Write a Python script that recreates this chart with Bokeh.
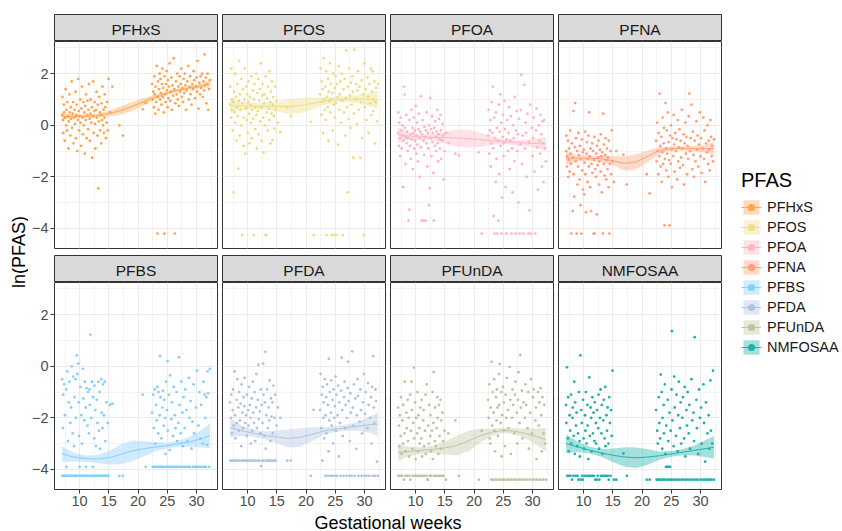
import math
import numpy as np
from bokeh.plotting import figure
from bokeh.layouts import row, column
from bokeh.models import Range1d, FixedTicker, Legend, LegendItem
from bokeh.embed import file_html
from bokeh.resources import INLINE
from bokeh.core.properties import value

# ---------------- data ----------------
pfas_names = ["PFHxS", "PFOS", "PFOA", "PFNA", "PFBS", "PFDA", "PFUnDA", "NMFOSAA"]
pfas_colors = ["#FFA54F", "#EEDD82", "#FFB6C1", "#FFA07A", "#87CEFA", "#B0C4DE", "#C2C2A3", "#20B2AA"]

x_ticks = [10, 15, 20, 25, 30]
y_ticks = [-4, -2, 0, 2]

# gestational week of each sample (same samples measured for every PFAS)
weeks_early = [7.0, 7.05, 7.15, 7.2, 7.3, 7.35, 7.45, 7.5, 7.6, 7.7,
               7.75, 7.85, 7.9, 8.0, 8.1, 8.15, 8.25, 8.3, 8.4, 8.5,
               8.55, 8.65, 8.7, 8.8, 8.9, 8.95, 9.05, 9.1, 9.2, 9.3,
               9.35, 9.45, 9.5, 9.6, 9.7, 9.75, 9.85, 9.9, 10.0, 10.1,
               10.15, 10.25, 10.3, 10.4, 10.5, 10.55, 10.65, 10.7, 10.8, 10.9,
               10.95, 11.05, 11.1, 11.2, 11.3, 11.35, 11.45, 11.5, 11.6, 11.7,
               11.75, 11.85, 11.9, 12.0, 12.1, 12.15, 12.25, 12.3, 12.4, 12.5,
               12.55, 12.65, 12.7, 12.8, 12.9, 12.95, 13.05, 13.1, 13.2, 13.3,
               13.35, 13.45, 13.5, 13.6, 13.7, 13.75, 13.85, 13.9, 14.0, 14.1,
               14.15, 14.25, 14.3, 14.4, 14.5, 14.6, 14.7, 14.8, 14.95, 15.2]
weeks_mid = [15.6, 16.8, 17.4, 20.8, 21.3]
weeks_late = [22.4, 22.5, 22.6, 22.7, 22.8, 22.85, 22.95, 23.0, 23.1, 23.2,
              23.3, 23.35, 23.45, 23.5, 23.6, 23.7, 23.75, 23.85, 23.9, 24.0,
              24.1, 24.15, 24.25, 24.3, 24.4, 24.5, 24.55, 24.65, 24.7, 24.8,
              24.9, 24.95, 25.05, 25.1, 25.2, 25.3, 25.4, 25.5, 25.6, 25.7,
              25.8, 25.9, 26.0, 26.1, 26.2, 26.3, 26.4, 26.5, 26.6, 26.7,
              26.8, 26.9, 27.0, 27.1, 27.2, 27.3, 27.4, 27.5, 27.6, 27.7,
              27.8, 27.9, 28.0, 28.1, 28.2, 28.3, 28.45, 28.6, 28.7, 28.8,
              28.9, 29.0, 29.15, 29.3, 29.4, 29.5, 29.6, 29.75, 29.9, 30.0,
              30.1, 30.2, 30.35, 30.5, 30.6, 30.7, 30.8, 30.95, 31.1, 31.2,
              31.3, 31.4, 31.5, 31.6, 31.7, 31.8, 31.9, 32.0, 32.15, 32.3]

# ln(PFAS) values
pfhxs_early = [0.4, 1.1, 0.2, -0.3, 0.8, 0.5, -0.6, 0.3, 1.4, 0.0,
               0.6, -0.2, 0.9, 0.35, -0.9, 0.15, 1.2, 0.5, -0.4, 0.7,
               0.25, 1.7, -0.1, 0.45, 0.9, -0.7, 0.3, 0.6, 0.05, 1.3,
               -0.5, 0.4, 0.8, -1.0, 0.2, 1.8, 0.55, -0.2, 0.35, 1.0,
               0.1, -0.8, 0.65, 1.5, 0.3, -0.35, 0.9, 0.0, 0.5, -1.1,
               0.75, 0.2, 1.2, -0.5, 0.4, 0.95, -0.15, 0.6, 1.6, 0.25,
               -0.6, 0.45, 1.0, 0.1, 0.7, -1.26, 0.35, 1.7, -0.3, 0.55,
               0.9, 0.05, -0.9, 0.6, 1.3, 0.3, -0.4, 0.8, -2.45, 0.15,
               1.1, 0.5, -0.2, 0.4, -0.7, 0.85, 0.2, 1.5, 0.0, 0.6,
               -0.3, 0.3, 1.2, 0.7, -0.5, 0.1, 0.9, -0.2, 1.8, 0.5]
pfhxs_mid = [1.5, 0.0, -0.4, 0.62, 0.86]
pfhxs_late = [1.6, 1.0, 1.3, 0.7, 1.9, 1.2, 0.45, 1.5, 0.9, 2.3,
              -4.2, 1.1, 1.7, 0.6, 1.4, 2.0, 1.0, 1.8, 1.25, 0.8,
              1.6, 2.2, 1.1, 1.45, 0.5, -4.2, 1.9, 1.2, 0.9, 1.6,
              2.1, 1.35, 0.7, 1.75, 1.05, 1.5, 2.4, 0.95, 1.3, 1.85,
              0.6, 1.55, 1.15, 2.6, 1.4, -4.2, 0.85, 1.7, 1.2, 2.0,
              1.0, 1.5, 0.75, 1.9, 1.3, 1.6, 2.2, 1.1, 1.45, 0.9,
              1.8, 1.25, 2.0, 1.55, 0.6, 1.35, 1.7, 2.3, 1.0, 1.5,
              1.9, 1.2, 0.8, 1.6, 1.4, 2.1, 1.75, 1.05, 1.5, 1.85,
              1.3, 2.5, 0.65, 1.65, 1.2, 1.9, 1.45, 2.0, 1.1, 1.7,
              1.35, 2.75, 1.55, 1.85, 0.85, 1.6, 2.0, 0.6, 1.4, 1.75]

pfos_early = [0.8, 1.5, 0.3, 2.2, 0.6, 1.0, -0.2, 0.9, -2.6, 1.3,
              0.5, 2.0, 0.1, 1.1, -0.6, 0.7, 1.6, 0.35, -1.68, 0.95,
              2.5, -0.4, 1.2, 0.6, 0.0, 1.8, -4.26, 0.85, 1.4, -0.8,
              0.3, 1.0, 2.2, -1.1, 0.65, 1.5, 0.2, 1.2, -0.3, 0.9,
              1.7, 0.45, -0.7, 1.1, 0.8, 0.1, 1.9, -0.5, 0.6, 1.35,
              0.25, -4.26, 1.0, 1.6, -0.15, 0.7, 2.0, 0.4, -0.9, 1.25,
              0.55, 1.8, -0.35, 0.95, 1.4, 0.15, 2.4, 0.7, -0.6, 1.15,
              1.6, 0.3, -1.05, 0.85, 1.2, 0.0, -4.26, 1.9, -4.26, 0.5,
              1.05, -0.2, 1.5, 0.65, 2.1, 0.2, 0.9, -0.7, 1.3, 0.45,
              1.7, -0.58, 0.8, 1.1, 0.35, -0.13, 1.5, 0.6, 0.95, 0.1]
pfos_mid = [-0.27, 0.7, 0.35, 0.13, -4.26]
pfos_late = [1.2, 2.2, 0.4, 1.7, 0.9, 1.4, -0.3, 2.6, 1.0, 0.6,
             1.5, 0.2, 2.1, -4.26, 1.1, 0.7, 1.8, -0.6, 1.3, 0.95,
             2.4, 0.5, 1.6, 1.0, -4.26, 1.25, -0.2, 2.0, 0.8, -4.26,
             1.45, 0.3, 1.9, 0.85, -4.26, 1.6, 1.1, -0.75, 2.3, 0.6,
             1.2, 1.7, 0.1, 2.0, 0.95, -4.26, 1.4, 0.5, 1.8, -0.4,
             1.05, 2.9, 0.7, -2.6, 1.5, 0.25, 2.2, 1.15, -0.1, 1.65,
             0.8, 1.9, 1.3, -1.26, 0.45, 2.93, 1.0, 1.6, 0.05, 1.35,
             2.1, 0.6, 1.5, -1.26, 0.9, 1.75, -0.5, 1.2, -4.26, 2.4,
             0.7, 1.4, 0.2, 1.85, 1.1, -0.3, 1.6, 0.85, 2.2, 0.4,
             1.3, 2.1, 0.55, 1.0, 1.7, -0.7, 0.9, 1.45, 0.15, 1.6]

pfoa_early = [-0.3, 0.5, -0.8, 0.1, -0.5, -1.2, 0.3, -0.2, -0.9, -0.4,
              0.0, -2.4, -0.6, 1.5, 1.19, -0.1, -1.5, -0.45, 0.4, -0.7,
              -0.25, -1.0, -0.5, -3.7, -3.27, 0.2, -0.8, -0.35, -1.3, 0.6,
              -0.55, -0.1, -1.7, -0.3, 0.3, -0.9, -0.2, -0.6, 0.75, -1.1,
              -0.4, 0.1, -0.75, -1.4, -0.15, 0.45, -0.5, -2.0, -0.25, -0.85,
              1.12, -3.7, -0.35, 0.2, -3.7, -0.6, -1.15, -0.05, -0.45, -3.7,
              -0.2, -0.7, 0.5, -1.6, -0.3, -0.9, -3.1, 0.0, -2.45, 1.06,
              -0.5, -0.15, -1.2, 0.35, -0.65, -0.3, -1.85, -3.7, -0.1, -0.8,
              0.15, -0.45, -1.0, -0.25, 0.6, -0.7, -1.4, -0.35, 0.25, -0.55,
              -0.9, 0.4, -0.2, -1.3, -0.6, 0.05, -0.4, -2.1, -1.0, -0.3]
pfoa_mid = [-0.7, -1.1, -1.17, -1.05, -4.2]
pfoa_late = [-0.4, 0.6, -1.1, -0.2, 0.2, -1.6, -0.7, 0.9, -0.3, 1.5,
             -0.9, -3.52, 0.3, -4.2, -0.5, -2.2, 0.5, -1.3, -0.1, -4.2,
             -0.6, -3.7, 0.8, -1.9, -0.25, 1.2, -0.8, 0.1, -4.2, -2.8,
             -0.45, 0.4, -1.2, -0.7, 0.95, -0.15, -2.4, -4.2, -0.55, 0.2,
             -1.0, -0.3, 0.7, -1.7, -0.6, 0.35, -4.2, -0.9, -2.6, 0.0,
             -0.5, -1.4, 1.1, -4.2, -0.2, 0.55, -1.0, -0.35, -3.0, 0.25,
             -4.2, -0.75, 0.6, 1.96, -1.5, -0.4, -4.2, 1.57, -0.9, 0.1,
             -0.3, -2.0, 0.45, -4.2, -0.65, -3.3, 0.8, -4.2, -0.1, -1.2,
             -0.5, 0.3, -1.8, -4.2, -0.2, 0.65, -0.85, -2.5, 0.0, -0.6,
             -1.1, 0.4, -0.35, -1.6, 0.15, -0.7, -2.2, 0.2, -0.9, -1.4]

pfna_early = [-1.0, -0.4, -1.6, -1.2, -0.6, -2.0, -1.35, -0.9, -1.8, -0.2,
              -1.1, -1.5, -4.2, -0.7, -3.33, -1.25, 0.55, -1.9, -2.77, -0.85,
              0.86, -1.4, -0.5, -4.2, -1.0, -2.3, -1.6, -0.3, -1.15, -2.1,
              -0.8, -3.1, -1.3, -4.2, -0.55, -1.75, -1.05, -2.5, -0.95, -2.68,
              -1.45, -0.25, -1.9, -3.37, -1.1, -0.65, -2.2, -1.3, -0.4, -1.6,
              0.5, -1.2, -2.4, -0.9, -3.33, -1.5, -0.7, -1.85, -1.0, -4.2,
              -1.35, -0.45, -4.2, -1.7, -2.0, -1.1, -3.46, -0.8, -1.55, -1.25,
              -0.6, -2.3, -1.4, -0.95, -1.8, -0.35, -1.2, -2.6, -1.05, -4.2,
              0.45, -1.5, -0.75, -1.95, -1.15, -0.5, -2.1, -1.35, -0.9, -1.7,
              -1.25, -2.4, -0.6, -4.2, -1.5, -1.0, -1.9, -0.2, -1.4, -2.2]
pfna_mid = [-1.0, -1.14, -2.3, -1.9, -2.64]
pfna_late = [-0.6, -1.4, 0.1, -1.0, -1.9, -0.3, -1.2, 1.23, -0.8, -1.6,
             -0.45, -2.2, -1.05, 0.3, -1.5, -0.7, -0.1, -3.88, -1.3, 0.86,
             -0.9, -1.75, -0.2, -1.1, 0.5, -2.0, -0.65, -1.35, -3.88, -0.4,
             -1.5, 0.0, -0.95, -2.4, -0.5, -1.2, 0.4, -0.75, -1.8, -0.3,
             -1.0, -0.55, -2.1, 0.2, -1.4, -0.85, -0.15, -1.65, -0.6, -1.25,
             0.6, -0.9, -1.55, -0.35, -2.3, -0.7, 0.1, -1.1, -0.45, -1.9,
             -0.8, -1.3, 0.35, 1.23, -1.0, -0.5, 0.8, -1.7, -0.25, -1.15,
             -2.0, -0.6, -1.4, 0.15, -0.95, -0.4, -1.6, -0.75, 0.5, -1.2,
             -0.5, -1.85, -0.9, 0.3, -1.3, -0.2, -2.2, -0.7, -1.05, 0.0,
             -1.5, -0.6, -0.95, -1.75, 0.2, -0.45, -1.2, -0.8, -1.4, -0.55]

pfbs_early = [-0.5, -4.25, -2.4, -1.1, -4.25, -0.7, -4.25, -1.9, -4.25, -0.9,
              -3.9, -4.25, -0.2, -2.9, -4.25, -1.4, -0.6, -4.25, -2.2, -4.25,
              -1.6, 0.0, -4.25, -2.6, -0.4, -4.25, -3.1, -1.2, -4.25, -0.5,
              -2.0, -4.25, 0.42, -0.3, -4.25, 0.1, -1.4, -2.7, -3.9, -4.25,
              -0.8, -4.25, -1.9, -3.0, -4.25, -0.1, -1.25, -4.25, -2.1, -0.6,
              -4.25, -1.6, -3.9, -0.85, -4.25, -2.3, -1.0, -4.25, -2.6, -0.9,
              -1.5, 1.23, -4.25, -2.0, -0.6, -4.25, -3.9, -1.2, -4.25, -2.8,
              -0.75, -4.25, -1.7, -3.1, -4.25, -1.3, -2.2, -4.25, -0.6, -2.5,
              -4.25, -1.0, -3.2, -4.25, -0.5, -1.8, -4.25, -2.4, -0.7, -4.25,
              -1.9, -4.25, -0.6, -2.9, -4.25, -1.4, -4.25, -2.2, -4.25, -1.5]
pfbs_mid = [-1.45, -4.25, -4.25, -1.1, -3.9]
pfbs_late = [-1.8, -3.9, -1.1, -2.4, -3.9, -0.9, -3.0, -3.9, -1.5, -2.1,
             -0.8, -3.9, -2.6, -1.0, -3.9, -1.9, 0.4, -1.2, -3.9, -2.8,
             -3.9, -1.6, -0.95, -3.9, -2.3, -1.3, -3.9, -2.0, -3.4, -0.6,
             -3.9, -1.7, 0.2, -2.5, -3.9, -1.1, -3.25, -0.35, -3.9, -2.05,
             -1.4, -3.9, -2.7, -0.8, -3.9, -1.9, -2.4, -3.9, -1.0, -2.9,
             -3.9, -2.2, 0.35, -1.5, -3.9, -2.6, -0.6, -3.9, -1.8, -3.1,
             -1.2, -3.9, -2.4, -0.9, -3.9, -1.7, -2.9, -3.9, -0.45, -2.0,
             -3.9, -1.35, -3.2, -2.15, -3.9, -0.7, -2.6, -3.9, -1.6, -3.9,
             -0.17, -3.9, -2.3, -1.0, -3.9, -2.8, -1.5, -3.9, -3.0, -0.6,
             -3.9, -1.1, -2.0, -3.9, -1.2, -3.05, -0.2, -1.05, -3.9, -0.1]

pfda_early = [-1.4, -3.66, -2.0, -1.1, -2.6, -3.66, -1.7, -0.9, -2.3, -3.66,
              -0.2, -1.9, -2.8, -3.66, -1.3, -2.2, -0.5, -3.66, -1.6, -2.5,
              -1.0, -3.66, -2.1, -1.45, -3.1, -0.7, -3.66, -1.8, -2.4, -1.2,
              -3.66, -1.55, -0.45, -2.2, -3.66, -1.9, -2.7, -1.1, -3.66, -1.7,
              -2.3, -0.8, -3.66, -1.5, -2.0, -3.0, -3.66, -1.25, -2.5, -0.6,
              -1.8, -3.66, -2.2, -1.0, -2.9, -3.66, -1.6, -0.3, -2.4, -3.66,
              -1.3, 0.06, -2.05, -3.66, -1.75, -2.6, -0.9, -3.87, -1.5, -3.66,
              -2.2, 0.1, -1.1, -3.66, -2.7, -1.4, 0.56, -3.2, -1.9, -3.66,
              -0.9, -2.4, -3.66, -1.6, -2.1, -0.55, -3.66, -2.9, -1.25, -1.95,
              -3.66, -1.4, -2.6, -0.75, -3.66, -2.0, -1.1, -3.66, -2.3, -1.6]
pfda_mid = [-2.0, -3.66, -3.66, -4.25, -1.69]
pfda_late = [-1.7, -0.3, -2.4, -1.1, -3.66, -0.8, -2.0, -1.4, -2.8, -0.5,
             -4.25, -1.9, -1.2, -2.6, -0.7, -4.25, -1.5, -3.3, 0.29, -2.1,
             -1.0, -4.25, -1.8, -0.55, -2.3, -4.25, -1.3, -3.0, -0.9, -2.0,
             -4.25, -1.55, -0.4, -2.5, -1.1, -4.25, -1.9, -0.75, -3.5, -1.4,
             -2.2, -4.25, -0.95, 0.33, -1.7, -2.7, -4.25, -1.2, -0.6, -2.4,
             -1.5, -4.25, -2.0, -0.85, 0.18, -1.35, -4.25, -2.9, -1.05, -1.8,
             -4.25, 0.58, -1.6, -2.3, -0.7, -4.25, -1.25, -3.2, -1.9, -0.5,
             -1.15, -4.25, -2.15, -0.9, -1.7, -4.25, -2.6, -1.4, -0.3, -4.25,
             -1.85, -1.0, -4.25, -2.4, -0.65, -1.5, -4.25, -2.0, -1.2, -3.0,
             -0.8, -4.25, 0.39, -1.6, -2.2, -4.25, -0.9, -1.35, -3.7, -4.25]

pfunda_early = [-1.6, -4.25, -2.3, -3.1, -1.9, -4.25, -2.7, -1.2, -3.4, -4.25,
                -2.1, -3.0, -1.5, -4.4, -2.6, -0.6, -4.25, -3.3, -1.8, -2.4,
                -4.25, -1.3, -2.9, -2.0, -3.5, -4.25, -1.1, -4.4, -2.5, -0.6,
                -1.7, -3.2, -4.25, -2.2, -0.05, -2.8, -4.25, -1.4, -3.6, -2.0,
                -4.25, -2.6, -1.0, -3.3, -1.9, -4.25, -2.4, -3.0, -1.6, -4.25,
                -2.8, -1.3, -3.5, -4.25, -2.1, -1.7, -3.1, -4.25, -2.5, -1.1,
                -3.4, -4.25, -0.7, -4.4, -4.4, -2.3, -3.0, -1.5, -4.25, -2.7,
                -1.9, -3.3, -4.25, -2.5, -1.0, -3.6, -2.2, -0.22, -4.25, -2.9,
                -1.6, -3.1, -4.25, -2.4, -1.2, -2.0, -4.25, -3.4, -1.5, -2.7,
                -4.25, -1.3, -3.2, -2.1, -4.25, -1.8, -2.9, -4.25, -2.5, -4.4]
pfunda_mid = [-2.6, -2.1, -4.25, -4.4, -2.5]
pfunda_late = [-1.3, -2.0, -0.7, -2.8, -3.0, -1.6, -4.4, 0.17, -2.3, -1.0,
               -4.4, -1.8, -0.5, -2.5, -3.3, -4.4, -1.2, -2.1, -0.9, -1.6,
               -2.7, -4.4, -0.3, -1.5, 0.09, -4.4, -2.2, -1.0, -3.5, -1.9,
               -4.4, -0.8, -2.5, -1.4, -4.4, -3.1, -1.1, -2.0, -0.45, -4.4,
               -1.7, -2.4, -4.4, -0.03, -1.3, -3.4, -4.4, -2.0, -0.9, -1.5,
               -4.4, -2.6, -1.1, -0.6, -4.4, -1.8, -3.0, -1.3, -0.23, -4.4,
               -2.2, 0.44, -1.6, -4.4, -0.95, -2.8, -1.4, -4.4, -2.0, -0.7,
               -1.5, -4.4, -2.4, -1.0, -3.2, -4.4, -1.8, -0.5, -2.6, -4.4,
               -1.2, -0.9, -4.4, -2.1, -1.6, -3.6, -4.4, -1.0, -2.3, -1.4,
               -4.4, -0.85, -1.9, -3.3, -1.2, -4.4, -2.6, -1.5, -3.0, -4.4]

nmfosaa_early = [-1.5, -2.2, -0.04, -4.25, -2.8, -1.2, -3.3, -4.25, -1.9, -2.5,
                 -4.25, -1.1, -3.0, -4.4, -2.0, -1.6, -4.25, -2.7, -0.6, -3.4,
                 -1.4, -4.25, -2.3, -1.8, -3.1, -4.25, -2.6, -4.4, -1.0, -2.9,
                 -3.5, 0.42, -4.4, -1.7, -2.2, -4.25, -4.4, -1.3, -2.8, -3.2,
                 -4.25, -1.9, -2.5, -1.0, -3.0, -4.25, -1.5, -2.3, -3.6, -4.25,
                 -0.43, -2.7, -4.25, -1.6, -2.0, -3.3, -4.25, -1.2, -2.6, -1.8,
                 -4.25, -2.9, -1.4, -4.4, -2.2, -3.0, -4.4, -1.7, -4.25, -2.4,
                 -1.1, -3.2, -4.4, -2.0, -0.9, -4.25, -2.6, -1.5, -3.4, -4.25,
                 -2.1, -1.3, -4.25, -2.8, -0.8, -3.1, -4.25, -1.9, -2.5, -1.6,
                 -4.25, -3.0, -4.4, -1.2, -2.2, -4.25, -1.7, -2.7, -0.17, -4.4]
nmfosaa_mid = [-4.4, -3.38, -4.25, -4.4, -4.4]
nmfosaa_late = [-1.7, -4.4, -2.5, -3.0, -4.4, -1.2, -2.2, -4.4, -2.8, -0.32,
                -4.4, -1.0, -3.2, -2.0, -4.4, -1.5, -2.6, -4.4, -0.7, -3.4,
                -3.9, -2.3, -4.4, -3.9, -1.3, -2.9, -3.9, -4.4, -1.8, -3.9,
                -2.5, -4.4, -0.9, 1.36, -2.1, -4.4, -3.1, -0.4, -1.6, -4.4,
                -2.7, -1.1, -4.4, -3.3, -1.9, -0.6, -4.4, -2.4, -1.4, -3.0,
                -4.4, -2.0, -1.2, -4.4, -2.8, -0.8, -3.5, -4.4, -1.7, -2.3,
                -1.0, -4.4, -2.6, -1.5, -3.2, -4.4, -0.5, -2.1, -4.4, -1.8,
                -2.9, 1.13, -4.4, -1.3, -2.4, -4.4, -3.4, -0.9, -2.0, -4.4,
                -1.6, -3.0, -4.4, -0.7, -2.2, -4.4, -3.7, -1.4, -4.4, -2.6,
                -4.4, -1.9, -3.2, -4.4, -0.55, -2.5, -4.4, -3.0, -0.17, -4.4]

# loess fits (mean and half-width of the 95% band)
fit_weeks = [7, 9, 11, 13, 15, 17, 19, 21, 23, 25, 27, 29, 31, 32.3]
pfhxs_fit = [0.34, 0.34, 0.35, 0.37, 0.45, 0.57, 0.73, 0.92, 1.10, 1.25, 1.37, 1.46, 1.54, 1.60]
pfhxs_se = [0.13, 0.08, 0.07, 0.08, 0.11, 0.16, 0.17, 0.14, 0.09, 0.07, 0.07, 0.07, 0.09, 0.13]
pfos_fit = [0.76, 0.75, 0.74, 0.74, 0.73, 0.73, 0.77, 0.84, 0.93, 0.99, 1.02, 1.02, 1.00, 0.98]
pfos_se = [0.28, 0.16, 0.12, 0.13, 0.20, 0.28, 0.30, 0.25, 0.15, 0.11, 0.12, 0.16, 0.26, 0.36]
pfoa_fit = [-0.38, -0.42, -0.45, -0.47, -0.48, -0.49, -0.52, -0.56, -0.60, -0.63, -0.66, -0.69, -0.71, -0.72]
pfoa_se = [0.30, 0.13, 0.10, 0.12, 0.22, 0.33, 0.35, 0.28, 0.16, 0.10, 0.10, 0.13, 0.20, 0.27]
pfna_fit = [-1.28, -1.28, -1.28, -1.30, -1.37, -1.48, -1.42, -1.20, -0.97, -0.90, -0.90, -0.90, -0.90, -0.90]
pfna_se = [0.25, 0.12, 0.10, 0.11, 0.18, 0.28, 0.30, 0.22, 0.12, 0.08, 0.08, 0.10, 0.16, 0.24]
pfbs_fit = [-3.40, -3.52, -3.58, -3.60, -3.55, -3.42, -3.28, -3.20, -3.13, -3.08, -3.00, -2.92, -2.80, -2.70]
pfbs_se = [0.30, 0.17, 0.12, 0.15, 0.26, 0.38, 0.40, 0.30, 0.16, 0.11, 0.12, 0.20, 0.35, 0.48]
pfda_fit = [-2.38, -2.50, -2.60, -2.68, -2.74, -2.80, -2.76, -2.64, -2.52, -2.44, -2.38, -2.32, -2.27, -2.24]
pfda_se = [0.36, 0.20, 0.13, 0.15, 0.25, 0.35, 0.36, 0.27, 0.15, 0.11, 0.12, 0.18, 0.32, 0.46]
pfunda_fit = [-3.35, -3.30, -3.26, -3.22, -3.17, -3.08, -2.90, -2.70, -2.56, -2.48, -2.52, -2.62, -2.75, -2.85]
pfunda_se = [0.32, 0.18, 0.12, 0.14, 0.25, 0.38, 0.40, 0.28, 0.14, 0.10, 0.12, 0.20, 0.35, 0.46]
nmfosaa_fit = [-3.00, -3.13, -3.25, -3.36, -3.45, -3.52, -3.55, -3.52, -3.47, -3.40, -3.33, -3.26, -3.19, -3.14]
nmfosaa_se = [0.36, 0.20, 0.13, 0.15, 0.26, 0.38, 0.40, 0.30, 0.16, 0.11, 0.12, 0.20, 0.34, 0.44]

values = {
    "PFHxS": (pfhxs_early + pfhxs_mid + pfhxs_late, pfhxs_fit, pfhxs_se),
    "PFOS": (pfos_early + pfos_mid + pfos_late, pfos_fit, pfos_se),
    "PFOA": (pfoa_early + pfoa_mid + pfoa_late, pfoa_fit, pfoa_se),
    "PFNA": (pfna_early + pfna_mid + pfna_late, pfna_fit, pfna_se),
    "PFBS": (pfbs_early + pfbs_mid + pfbs_late, pfbs_fit, pfbs_se),
    "PFDA": (pfda_early + pfda_mid + pfda_late, pfda_fit, pfda_se),
    "PFUnDA": (pfunda_early + pfunda_mid + pfunda_late, pfunda_fit, pfunda_se),
    "NMFOSAA": (nmfosaa_early + nmfosaa_mid + nmfosaa_late, nmfosaa_fit, nmfosaa_se),
}
weeks = weeks_early + weeks_mid + weeks_late

# ---------------- styling / layout ----------------
FONT = "Liberation Sans"
FW, FH, STRIP_H = 163, 207, 27
X_RANGE = (5.7, 33.6)
Y_RANGE = (-4.78, 3.25)
YLAB_W = 28
LEFT_B = 26
GAP = 5
TOP = 14
ROW_GAP = 7
BOT_AX = 23
XLAB_H = 20
TOTAL_W = 842
TOTAL_H = TOP + STRIP_H + FH + ROW_GAP + STRIP_H + FH + BOT_AX + XLAB_H


def blank(width, height, xr, yr, **borders):
    f = figure(width=width, height=height, x_range=Range1d(*xr), y_range=Range1d(*yr),
               x_axis_location=None, y_axis_location=None, toolbar_location=None,
               output_backend="svg", min_border_left=borders.get("l", 0),
               min_border_right=borders.get("r", 0), min_border_top=borders.get("t", 0),
               min_border_bottom=borders.get("b", 0))
    f.xgrid.visible = False
    f.ygrid.visible = False
    f.outline_line_color = None
    f.background_fill_color = "white"
    f.border_fill_color = "white"
    return f


def col_borders(ci):
    return (LEFT_B if ci == 0 else 0), GAP


def make_strip(name, ci, top):
    bl, br = col_borders(ci)
    s = blank(bl + FW + br, STRIP_H + top, (0, 1), (0, 1), l=bl, r=br, t=top, b=0)
    s.background_fill_color = "#D9D9D9"
    s.outline_line_color = "#333333"
    s.outline_line_width = 1
    s.text(x=[0.5], y=[0.45], text=[name], text_align="center", text_baseline="middle",
           text_font=value(FONT), text_font_size="15.5px", text_color="#1A1A1A")
    return s


def style_axis(ax):
    ax.axis_line_color = None
    ax.major_tick_line_color = "#333333"
    ax.major_tick_in = 0
    ax.major_tick_out = 4
    ax.minor_tick_line_color = None
    ax.major_label_text_font = FONT
    ax.major_label_text_font_size = "14.5px"
    ax.major_label_text_color = "#4D4D4D"
    ax.major_label_standoff = 2


def make_panel(name, color, ci, ri):
    ys, fit, se = values[name]
    bl, br = col_borders(ci)
    bottom = ROW_GAP if ri == 0 else BOT_AX
    p = figure(width=bl + FW + br, height=FH + bottom,
               x_range=Range1d(*X_RANGE), y_range=Range1d(*Y_RANGE),
               x_axis_location=("below" if ri == 1 else None),
               y_axis_location=("left" if ci == 0 else None),
               toolbar_location=None, output_backend="svg",
               min_border_left=bl, min_border_right=br, min_border_top=0, min_border_bottom=bottom)
    p.background_fill_color = "white"
    p.border_fill_color = "white"
    p.outline_line_color = "#333333"
    p.outline_line_width = 1
    xt = FixedTicker(ticks=x_ticks, minor_ticks=[7.5, 12.5, 17.5, 22.5, 27.5, 32.5])
    yt = FixedTicker(ticks=y_ticks, minor_ticks=[-3, -1, 1, 3])
    p.xgrid.ticker = xt
    p.ygrid.ticker = yt
    for g in (p.xgrid, p.ygrid):
        g.grid_line_color = "#EBEBEB"
        g.grid_line_width = 1.1
        g.minor_grid_line_color = "#EBEBEB"
        g.minor_grid_line_width = 0.6
    if ri == 1:
        p.xaxis.ticker = FixedTicker(ticks=x_ticks)
        for ax in p.xaxis:
            style_axis(ax)
    if ci == 0:
        p.yaxis.ticker = FixedTicker(ticks=y_ticks)
        for ax in p.yaxis:
            style_axis(ax)
    n = min(len(weeks), len(ys))
    p.scatter(weeks[:n], ys[:n], size=2.8, marker="circle", fill_color=color, line_color=None)
    fit_a = np.array(fit)
    se_a = np.array(se)
    p.varea(x=fit_weeks, y1=list(fit_a - se_a), y2=list(fit_a + se_a), fill_color=color, fill_alpha=0.4)
    p.line(fit_weeks, fit, line_color=color, line_width=1)
    return p


rows_out = []
for ri in range(2):
    strips = []
    panels = []
    for ci in range(4):
        k = ri * 4 + ci
        strips.append(make_strip(pfas_names[k], ci, TOP if ri == 0 else 0))
        panels.append(make_panel(pfas_names[k], pfas_colors[k], ci, ri))
    rows_out.append(row(*strips))
    rows_out.append(row(*panels))

grid_w = (LEFT_B + FW + GAP) + 3 * (FW + GAP)
xlab = blank(grid_w, XLAB_H, (0, XLAB_H and grid_w), (0, XLAB_H))
xlab.text(x=[(LEFT_B + grid_w - GAP) / 2], y=[XLAB_H / 2.0], text=["Gestational weeks"], text_align="center",
          text_baseline="middle", text_font=value(FONT), text_font_size="18px", text_color="black")

ylab = blank(YLAB_W, TOTAL_H, (0, YLAB_W), (0, TOTAL_H))
mid_y = TOTAL_H - (TOP + (2 * STRIP_H + 2 * FH + ROW_GAP) / 2.0)
ylab.text(x=[18], y=[mid_y], text=["ln(PFAS)"], angle=math.pi / 2, text_align="center",
          text_baseline="middle", text_font=value(FONT), text_font_size="18px", text_color="black")

leg_w = TOTAL_W - YLAB_W - grid_w
legf = blank(leg_w, TOTAL_H, (0, leg_w), (0, TOTAL_H))
items = []
for name, color in zip(pfas_names, pfas_colors):
    r1 = legf.quad(left=[-30], right=[-20], bottom=[-30], top=[-20], fill_color=color,
                   fill_alpha=0.4, line_color=None)
    r2 = legf.line([-30, -20], [-30, -20], line_color=color, line_width=1)
    r3 = legf.scatter([-25], [-25], size=2.8, marker="circle", fill_color=color, line_color=None)
    items.append(LegendItem(label=name, renderers=[r1, r2, r3]))
legend = Legend(items=items, location=(15, TOTAL_H - 356), title="PFAS",
                title_text_font=FONT, title_text_font_size="20px", title_text_color="black",
                title_text_font_style="normal", title_standoff=6,
                label_text_font=FONT, label_text_font_size="14.5px", label_text_color="#1A1A1A",
                glyph_width=20, glyph_height=18, label_height=18, spacing=2, label_standoff=6,
                padding=0, margin=0, border_line_color=None, background_fill_alpha=0)
legf.add_layout(legend)

layout = row(ylab, column(*rows_out, xlab), legf)

open("out.html", "w").write(file_html(layout, INLINE))
